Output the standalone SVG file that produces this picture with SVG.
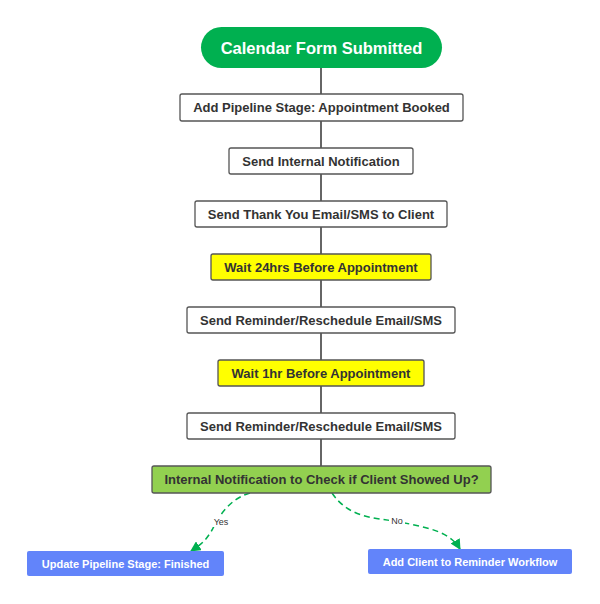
<svg xmlns="http://www.w3.org/2000/svg" width="600" height="604" viewBox="0 0 600 604">
<defs>
<style>
.b{fill:#fff;stroke:#555;stroke-width:1.3}
.y{fill:#ffff00;stroke:#555;stroke-width:1.3}
.g{fill:#92d050;stroke:#555;stroke-width:1.3}
.bl{fill:#6284fa}
.t{font-family:"Liberation Sans",Arial,sans-serif;font-weight:bold;font-size:13px;fill:#333;text-anchor:middle}
.w{font-family:"Liberation Sans",Arial,sans-serif;font-weight:bold;font-size:11px;fill:#fff;text-anchor:middle}
.trunk{stroke:#333;stroke-width:1.5;fill:none}
.d{stroke:#00b050;stroke-width:1.5;fill:none;stroke-dasharray:6 4}
.lbl{font-family:"Liberation Sans",Arial,sans-serif;font-size:9px;fill:#333;text-anchor:middle}
</style>
<marker id="ah" viewBox="0 0 10 10" refX="9" refY="5" markerWidth="7" markerHeight="7" orient="auto">
<path d="M0,0 L10,5 L0,10 z" fill="#00b050"/>
</marker>
</defs>
<rect width="600" height="604" fill="#fff"/>
<g id="connectors">
<line class="trunk" x1="321" y1="68" x2="321" y2="466"/>
<path class="d" d="M250,493 C225,500 215,525 212,530 C205,542 200,545 191,551" marker-end="url(#ah)"/>
<path class="d" d="M332,493 C350,520 380,518 400,522 C430,528 450,532 460,549" marker-end="url(#ah)"/>
<rect x="212" y="516" width="18" height="11" fill="#fff"/>
<text class="lbl" x="221" y="525">Yes</text>
<rect x="389" y="516" width="16" height="11" fill="#fff"/>
<text class="lbl" x="397" y="524">No</text>
</g>
<g id="start">
<rect x="201" y="27" width="241" height="41" rx="20.5" fill="#00b050"/>
<text x="321.5" y="53.5" font-family="Liberation Sans,Arial,sans-serif" font-weight="bold" font-size="16.5" fill="#fff" text-anchor="middle">Calendar Form Submitted</text>
</g>
<g id="n1"><rect class="b" x="180" y="94" width="283" height="27" rx="2"/><text class="t" x="321.5" y="112">Add Pipeline Stage: Appointment Booked</text></g>
<g id="n2"><rect class="b" x="229" y="148" width="184" height="26" rx="2"/><text class="t" x="321" y="165.5">Send Internal Notification</text></g>
<g id="n3"><rect class="b" x="195" y="201" width="252" height="26" rx="2"/><text class="t" x="321" y="218.5">Send Thank You Email/SMS to Client</text></g>
<g id="n4"><rect class="y" x="211" y="254" width="220" height="26" rx="2"/><text class="t" x="321" y="271.5">Wait 24hrs Before Appointment</text></g>
<g id="n5"><rect class="b" x="187" y="307" width="268" height="26" rx="2"/><text class="t" x="321" y="324.5">Send Reminder/Reschedule Email/SMS</text></g>
<g id="n6"><rect class="y" x="218" y="360" width="206" height="26" rx="2"/><text class="t" x="321" y="377.5">Wait 1hr Before Appointment</text></g>
<g id="n7"><rect class="b" x="187" y="413" width="268" height="26" rx="2"/><text class="t" x="321" y="430.5">Send Reminder/Reschedule Email/SMS</text></g>
<g id="n8"><rect class="g" x="152" y="466" width="339" height="27" rx="2"/><text class="t" x="321.5" y="484">Internal Notification to Check if Client Showed Up?</text></g>
<g id="n9"><rect class="bl" x="27" y="551" width="197" height="25" rx="2"/><text class="w" x="125.5" y="567.5">Update Pipeline Stage: Finished</text></g>
<g id="n10"><rect class="bl" x="368" y="549" width="204" height="25" rx="2"/><text class="w" x="470" y="565.5">Add Client to Reminder Workflow</text></g>
</svg>
